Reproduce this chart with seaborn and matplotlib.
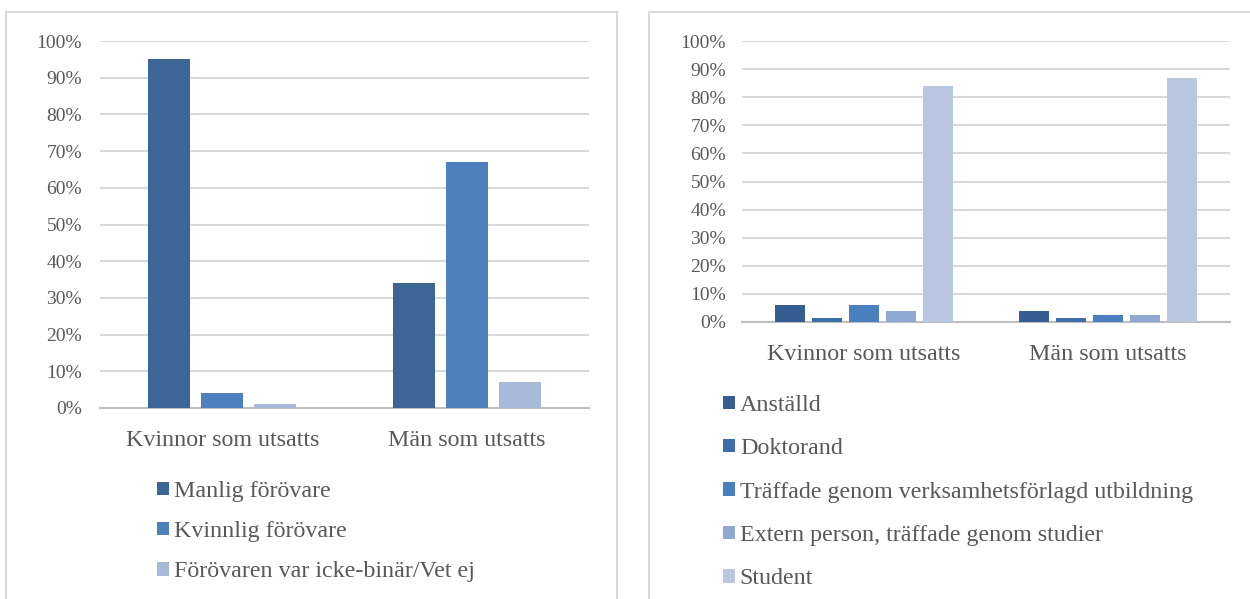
import matplotlib
matplotlib.use("Agg")
import matplotlib.pyplot as plt
import seaborn as sns
import pandas as pd
from matplotlib.patches import Rectangle
from matplotlib.ticker import PercentFormatter, FixedLocator

# ---- data ----
categories = ["Kvinnor som utsatts", "Män som utsatts"]

left_series = ["Manlig förövare", "Kvinnlig förövare", "Förövaren var icke-binär/Vet ej"]
left_manlig = [95, 34]
left_kvinnlig = [4, 67]
left_ickebinar = [1, 7]
left_colors = ["#3D6698", "#4E80BD", "#A8BAD8"]

right_series = ["Anställd", "Doktorand", "Träffade genom verksamhetsförlagd utbildning",
                "Extern person, träffade genom studier", "Student"]
right_anstalld = [6, 4]
right_doktorand = [1.5, 1.5]
right_traffade = [6, 2.5]
right_extern = [4, 2.5]
right_student = [84, 87]
right_colors = ["#355D92", "#3E6DAA", "#4A80C0", "#8FA9D3", "#BAC7E1"]

yticks = list(range(0, 101, 10))

left_df = pd.DataFrame({
    "cat": categories * 3,
    "series": [s for s in left_series for _ in categories],
    "val": left_manlig + left_kvinnlig + left_ickebinar,
})
right_df = pd.DataFrame({
    "cat": categories * 5,
    "series": [s for s in right_series for _ in categories],
    "val": right_anstalld + right_doktorand + right_traffade + right_extern + right_student,
})

sns.set_theme(style="white")
plt.rcParams["font.family"] = ["Liberation Serif", "DejaVu Serif"]

TXT = "#595959"
GRID = "#D9D9D9"

fig = plt.figure(figsize=(12.5, 5.99), dpi=100)

# panel borders
W, H = 1250, 599
def px_rect(x0, y0, x1, y1):
    return Rectangle((x0 / W, 1 - y1 / H), (x1 - x0) / W, (y1 - y0) / H,
                     transform=fig.transFigure, fill=False, edgecolor="#D9D9D9",
                     linewidth=1.5, zorder=0)
fig.patches.append(px_rect(6, 12, 617, 605))
fig.patches.append(px_rect(649, 12, 1260, 605))

def ax_px(x0, y0, x1, y1):
    return fig.add_axes([x0 / W, 1 - y1 / H, (x1 - x0) / W, (y1 - y0) / H])

def style(ax, ticks_size, cat_size, ypad, xpad):
    ax.set_ylim(0, 100)
    ax.set_xlim(-0.5, 1.5)
    ax.yaxis.set_major_locator(FixedLocator(yticks))
    ax.yaxis.set_major_formatter(PercentFormatter(decimals=0))
    ax.grid(axis="y", color=GRID, linewidth=1.5, zorder=0)
    ax.set_axisbelow(True)
    for s in ["top", "right", "left"]:
        ax.spines[s].set_visible(False)
    ax.spines["bottom"].set_color("#BFBFBF")
    ax.spines["bottom"].set_linewidth(1.5)
    ax.tick_params(axis="y", length=0, labelsize=ticks_size, labelcolor=TXT, pad=ypad)
    ax.tick_params(axis="x", which="major", length=0, labelsize=cat_size, labelcolor=TXT, pad=xpad)
    ax.set_xticks([-0.5, 0.5, 1.5], minor=True)
    ax.tick_params(axis="x", which="minor", length=7, width=1.5, color="#BFBFBF", direction="out")
    ax.set_xlabel("")
    ax.set_ylabel("")

LEG_FS = 17.3

# left chart
axL = ax_px(100, 41, 589, 408)
sns.barplot(data=left_df, x="cat", y="val", hue="series", hue_order=left_series,
            palette=left_colors, saturation=1, width=0.65, gap=0.2, ax=axL,
            linewidth=0, zorder=3)
style(axL, 14, 17.3, 13, 16)
hL, lL = axL.get_legend_handles_labels()
axL.get_legend().remove()
fig.legend(hL, lL, loc="upper left", bbox_to_anchor=(157 / W, 1 - 481 / H),
           frameon=False, fontsize=LEG_FS, labelcolor=TXT, handlelength=0.48,
           handleheight=0.48, handletextpad=0.22, labelspacing=0.8, borderpad=0,
           borderaxespad=0)

# right chart
axR = ax_px(742, 41, 1230, 322)
sns.barplot(data=right_df, x="cat", y="val", hue="series", hue_order=right_series,
            palette=right_colors, saturation=1, width=0.76, gap=0.2, ax=axR,
            linewidth=0, zorder=3)
style(axR, 14, 17.3, 11.5, 16)
hR, lR = axR.get_legend_handles_labels()
axR.get_legend().remove()
fig.legend(hR, lR, loc="upper left", bbox_to_anchor=(723 / W, 1 - 395 / H),
           frameon=False, fontsize=LEG_FS, labelcolor=TXT, handlelength=0.48,
           handleheight=0.48, handletextpad=0.22, labelspacing=0.93, borderpad=0,
           borderaxespad=0)

fig.savefig("out.png", dpi=100, facecolor="white")
